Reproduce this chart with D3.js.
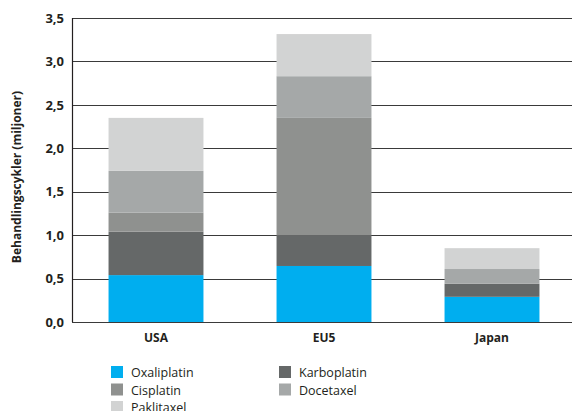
<!DOCTYPE html>
<html>
<head>
<meta charset="utf-8">
<script src="https://cdn.jsdelivr.net/npm/d3@7"></script>
<style>
  html, body { margin: 0; padding: 0; background: #fff; }
  svg { display: block; }
  text { font-family: "Open Sans", "Noto Sans", sans-serif; fill: #231f20; }
</style>
</head>
<body>
<script>
// Treatment cycles (millions) per market, stacked by drug
const categories = ["USA", "EU5", "Japan"];
const seriesNames = ["Oxaliplatin", "Karboplatin", "Cisplatin", "Docetaxel", "Paklitaxel"];
const oxaliplatin = [0.54, 0.645, 0.29];
const karboplatin = [0.50, 0.355, 0.15];
const cisplatin   = [0.22, 1.35, 0.0];
const docetaxel   = [0.48, 0.48, 0.17];
const paklitaxel  = [0.61, 0.485, 0.24];
const yTicks = [0, 0.5, 1.0, 1.5, 2.0, 2.5, 3.0, 3.5];
const yTitle = "Behandlingscykler (miljoner)";

const colors = {
  Oxaliplatin: "#00aeef",
  Karboplatin: "#656868",
  Cisplatin: "#8f918f",
  Docetaxel: "#a5a8a8",
  Paklitaxel: "#d2d3d3"
};

const seriesValues = {
  Oxaliplatin: oxaliplatin,
  Karboplatin: karboplatin,
  Cisplatin: cisplatin,
  Docetaxel: docetaxel,
  Paklitaxel: paklitaxel
};

const rows = categories.map((c, i) => {
  const r = { category: c };
  seriesNames.forEach(s => r[s] = seriesValues[s][i]);
  return r;
});

const W = 572, H = 411;
const svg = d3.select("body").append("svg").attr("width", W).attr("height", H);

const x0 = 72, x1 = 576, yTop = 18, yBottom = 322;

const x = d3.scaleBand().domain(categories).range([x0, x1])
  .paddingInner(0.435).paddingOuter(0.2175);
const y = d3.scaleLinear().domain([0, 3.5]).range([yBottom, yTop]);

// Horizontal gridlines
svg.append("g").selectAll("line").data(yTicks).join("line")
  .attr("x1", x0).attr("x2", W)
  .attr("y1", d => Math.round(y(d)) + 0.5).attr("y2", d => Math.round(y(d)) + 0.5)
  .attr("stroke", "#3a3a3a").attr("stroke-width", 1.2);

// Stacked bars
const stack = d3.stack().keys(seriesNames)(rows);
svg.append("g").selectAll("g").data(stack).join("g")
  .attr("fill", d => colors[d.key])
  .selectAll("rect").data(d => d).join("rect")
  .attr("x", d => x(d.data.category))
  .attr("width", x.bandwidth())
  .attr("y", d => y(d[1]))
  .attr("height", d => Math.max(0, y(d[0]) - y(d[1])));

// Y axis
const yAxis = d3.axisLeft(y).tickValues(yTicks).tickSize(0).tickPadding(8)
  .tickFormat(d => d3.format(".1f")(d).replace(".", ","));
const gy = svg.append("g").attr("transform", `translate(${x0},0)`).call(yAxis);
gy.select(".domain").attr("stroke", "#231f20").attr("stroke-width", 1.2)
  .attr("d", `M0.5,${yTop}V${yBottom}`);
gy.selectAll("text").attr("font-size", 13).attr("font-weight", 700)
  .attr("font-family", "'Open Sans', sans-serif").attr("fill", "#231f20");

// X axis labels
const xAxis = d3.axisBottom(x).tickSize(0).tickPadding(11);
const gx = svg.append("g").attr("transform", `translate(0,${yBottom})`).call(xAxis);
gx.select(".domain").remove();
gx.selectAll("text").attr("font-size", 12).attr("font-weight", 700)
  .attr("font-family", "'Open Sans', sans-serif").attr("fill", "#231f20");

// Y axis title
svg.append("text")
  .attr("transform", `translate(21,177) rotate(-90)`)
  .attr("text-anchor", "middle")
  .attr("font-size", 12).attr("font-weight", 700)
  .text(yTitle);

// Legend
const legendItems = [
  { name: "Oxaliplatin", col: 0, row: 0 },
  { name: "Karboplatin", col: 1, row: 0 },
  { name: "Cisplatin", col: 0, row: 1 },
  { name: "Docetaxel", col: 1, row: 1 },
  { name: "Paklitaxel", col: 0, row: 2 }
];
const lg = svg.append("g").selectAll("g").data(legendItems).join("g")
  .attr("transform", d => `translate(${111 + d.col * 168},${366 + d.row * 17.5})`);
lg.append("rect").attr("width", 12).attr("height", 12).attr("fill", d => colors[d.name]);
lg.append("text").attr("x", 20).attr("y", 11).attr("font-size", 12.5).text(d => d.name);
</script>
</body>
</html>
